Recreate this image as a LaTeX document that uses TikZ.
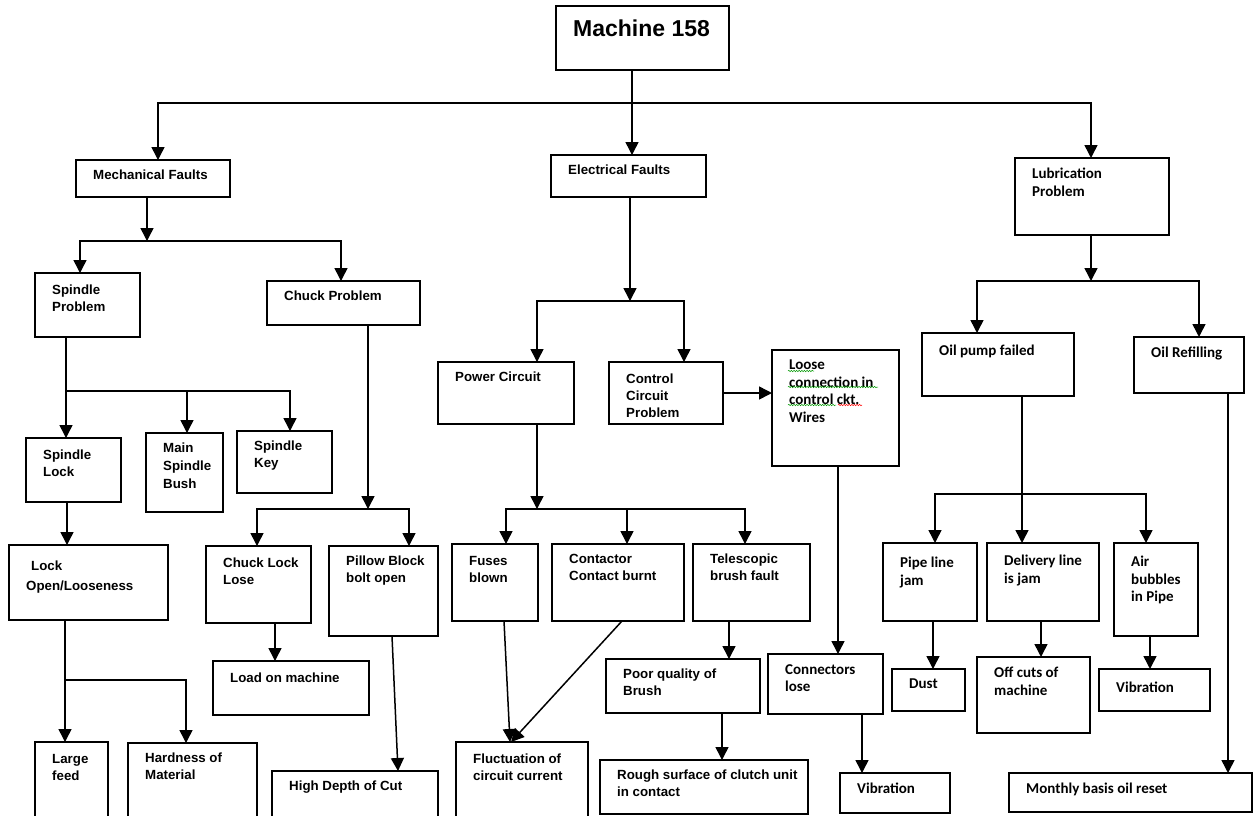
\documentclass[tikz,border=0pt]{standalone}
\usepackage{fontspec}
\setmainfont{Liberation Sans}
\newfontfamily\calib{Carlito}
\usetikzlibrary{arrows.meta,decorations.pathmorphing}

% box with its text set in the top left corner
\newcommand{\faultbox}[6][]{%
  \node[box, minimum width=#4, minimum height=#5, label={[lab,#1]north west:{#6}}] (#2) at (#3) {};}

\begin{document}
\begin{tikzpicture}[x=1pt, y=-1pt,
    box/.style={draw, line width=1.5pt, anchor=north west, inner sep=0pt, outer sep=0pt},
    lab/.style={anchor=north west, inner sep=0pt, align=left, xshift=17pt, yshift=-10pt,
      font=\fontsize{13.3}{17}\selectfont\bfseries},
    labc/.style={font=\calib\fontsize{15}{17.5}\selectfont\bfseries},
    link/.style={line width=1.5pt},
    arr/.style={link, -{Triangle[width=13pt,length=13pt]}},
    wavy/.style={decorate, decoration={snake, amplitude=0.7pt, segment length=2.6pt}, line width=0.5pt}]
  \clip (0,0) rectangle (1254,815);
  \fill[white] (0,0) rectangle (1254,815);

  % boxes
  \faultbox[font=\fontsize{23}{27}\selectfont\bfseries, yshift=-4pt]{m158}{556,6}{173}{64}{Machine 158}
  \faultbox{mech}{76,160}{154}{37}{Mechanical Faults}
  \faultbox{elec}{551,155}{155}{42}{Electrical Faults}
  \faultbox[labc]{lub}{1015,158}{154}{77}{Lubrication\\Problem}
  \faultbox[yshift=-2pt]{spin}{35,273}{105}{64}{Spindle\\Problem}
  \faultbox{chuck}{267,281}{153}{44}{Chuck Problem}
  \faultbox{power}{438,362}{136}{62}{Power Circuit}
  \faultbox[yshift=-2pt]{ctrl}{609,362}{114}{62}{Control\\Circuit\\Problem}
  \faultbox[labc]{loose}{772,350}{127}{116}{Loose\\connection in\\control ckt.\\Wires}
  \faultbox[labc, yshift=-2pt]{pump}{922,333}{152}{63}{Oil pump failed}
  \faultbox[labc]{refill}{1134,337}{110}{56}{Oil Refilling}
  \faultbox[yshift=-2pt]{slock}{26,438}{95}{64}{Spindle\\Lock}
  \faultbox[font=\fontsize{13.3}{18}\selectfont\bfseries]{bush}{146,433}{77}{79}{Main\\Spindle\\Bush}
  \faultbox{key}{237,431}{95}{62}{Spindle\\Key}
  \faultbox[font=\fontsize{13.3}{20}\selectfont\bfseries, yshift=-6pt]{looseness}{9,545}{159}{75}{\hspace*{5pt}Lock\\Open/Looseness}
  \faultbox[yshift=-2pt]{clock}{206,546}{105}{77}{Chuck Lock\\Lose}
  \faultbox{pillow}{329,546}{109}{90}{Pillow Block\\bolt open}
  \faultbox[yshift=-2pt]{fuses}{452,544}{86}{77}{Fuses\\blown}
  \faultbox{contactor}{552,544}{132}{77}{Contactor\\Contact burnt}
  \faultbox{telescopic}{693,544}{117}{77}{Telescopic\\brush fault}
  \faultbox[labc, yshift=-4pt]{pipe}{883,543}{94}{78}{Pipe line\\jam}
  \faultbox[labc, yshift=-2pt]{delivery}{987,543}{112}{78}{Delivery line\\is jam}
  \faultbox[labc, yshift=-3pt]{air}{1114,543}{84}{93}{Air\\bubbles\\in Pipe}
  \faultbox[yshift=-2pt]{loadm}{213,661}{156}{54}{Load on machine}
  \faultbox{poor}{606,659}{154}{54}{Poor quality of\\Brush}
  \faultbox[labc]{connlose}{768,654}{115}{60}{Connectors\\lose}
  \faultbox[labc]{dust}{892,669}{73}{42}{Dust}
  \faultbox[labc]{offcuts}{977,657}{113}{76}{Off cuts of\\machine}
  \faultbox[labc, yshift=-3pt]{vibr1}{1099,669}{111}{42}{Vibration}
  \faultbox[yshift=-2pt]{large}{35,742}{73}{100}{Large\\feed}
  \faultbox{hard}{128,743}{129}{100}{Hardness of\\Material}
  \faultbox{depth}{272,771}{166}{60}{High Depth of Cut}
  \faultbox[yshift=-2pt]{fluct}{456,742}{132}{100}{Fluctuation of\\circuit current}
  \faultbox{rough}{600,760}{208}{54}{Rough surface of clutch unit\\in contact}
  \faultbox[labc]{vibr2}{840,773}{110}{40}{Vibration}
  \faultbox[labc]{monthly}{1009,773}{243}{39}{Monthly basis oil reset}

  % spell check marks
  \draw[wavy, green!60!black] ([shift={(16,21)}]loose.north west) -- ++(26,0);
  \draw[wavy, green!60!black] ([shift={(16,37)}]loose.north west) -- ++(90,0);
  \draw[wavy, green!60!black] ([shift={(16,55)}]loose.north west) -- ++(48,0);
  \draw[wavy, red] ([shift={(66,55)}]loose.north west) -- ++(24,0);

  % top level
  \coordinate (jtop) at (632,103);
  \draw[link] (632,0 |- m158.south) -- (jtop);
  \draw[arr] (jtop) -| (158,0 |- mech.north);
  \draw[arr] (jtop) -- (632,0 |- elec.north);
  \draw[arr] (jtop) -| (1091,0 |- lub.north);

  % mechanical
  \coordinate (jmech) at (147,241);
  \draw[arr] (147,0 |- mech.south) -- (jmech);
  \draw[arr] (jmech) -| (80,0 |- spin.north);
  \draw[arr] (jmech) -| (341,0 |- chuck.north);
  \coordinate (jspin) at (66,391);
  \draw[link] (66,0 |- spin.south) -- (jspin);
  \draw[arr] (jspin) -- (66,0 |- slock.north);
  \draw[arr] (jspin) -| (187,0 |- bush.north);
  \draw[arr] (jspin) -| (290,0 |- key.north);
  \draw[arr] (67,0 |- slock.south) -- (67,0 |- looseness.north);
  \coordinate (jlock) at (65,680);
  \draw[arr] (65,0 |- looseness.south) -- (65,0 |- large.north);
  \draw[arr] (jlock) -| (186,0 |- hard.north);
  \coordinate (jchuck) at (368,509);
  \draw[arr] (368,0 |- chuck.south) -- (jchuck);
  \draw[arr] (jchuck) -| (257,0 |- clock.north);
  \draw[arr] (jchuck) -| (409,0 |- pillow.north);
  \draw[arr] (275,0 |- clock.south) -- (275,0 |- loadm.north);
  \draw[arr] (392,0 |- pillow.south) -- (398,0 |- depth.north);

  % electrical
  \coordinate (jelec) at (630,301);
  \draw[arr] (630,0 |- elec.south) -- (jelec);
  \draw[arr] (jelec) -| (537,0 |- power.north);
  \draw[arr] (jelec) -| (684,0 |- ctrl.north);
  \draw[arr] (ctrl.east |- 0,393) -- (loose.west |- 0,393);
  \draw[arr] (838,0 |- loose.south) -- (838,0 |- connlose.north);
  \draw[arr] (862,0 |- connlose.south) -- (862,0 |- vibr2.north);
  \coordinate (jpower) at (537,509);
  \draw[arr] (537,0 |- power.south) -- (jpower);
  \draw[arr] (jpower) -| (506,0 |- fuses.north);
  \draw[arr] (jpower) -| (627,0 |- contactor.north);
  \draw[arr] (jpower) -| (745,0 |- telescopic.north);
  \draw[arr] (504,0 |- fuses.south) -- (510,0 |- fluct.north);
  \draw[arr] (622,0 |- contactor.south) -- (511,0 |- fluct.north);
  \draw[arr] (729,0 |- telescopic.south) -- (729,0 |- poor.north);
  \draw[arr] (722,0 |- poor.south) -- (722,0 |- rough.north);

  % lubrication
  \coordinate (jlub) at (1091,281);
  \draw[arr] (1091,0 |- lub.south) -- (jlub);
  \draw[arr] (jlub) -| (977,0 |- pump.north);
  \draw[arr] (jlub) -| (1199,0 |- refill.north);
  \coordinate (jpump) at (1022,494);
  \draw[arr] (1022,0 |- pump.south) -- (1022,0 |- delivery.north);
  \draw[arr] (jpump) -| (935,0 |- pipe.north);
  \draw[arr] (jpump) -| (1146,0 |- air.north);
  \draw[arr] (933,0 |- pipe.south) -- (933,0 |- dust.north);
  \draw[arr] (1041,0 |- delivery.south) -- (1041,0 |- offcuts.north);
  \draw[arr] (1150,0 |- air.south) -- (1150,0 |- vibr1.north);
  \draw[arr] (1228,0 |- refill.south) -- (1228,0 |- monthly.north);
\end{tikzpicture}
\end{document}
